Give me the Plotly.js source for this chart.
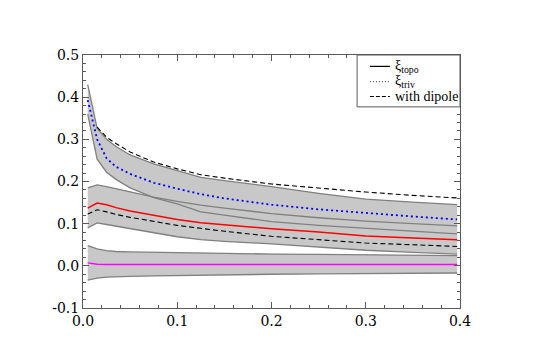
<!DOCTYPE html>
<html>
<head>
<meta charset="utf-8">
<script src="https://cdn.plot.ly/plotly-3.0.1.min.js"></script>
<style>body{margin:0;background:#fff}</style>
</head>
<body>
<div id="plot" style="width:545px;height:364px"></div>
<script>
// x grid shared by every curve
const xs = [0.005, 0.015, 0.025, 0.035, 0.05, 0.075, 0.1, 0.125, 0.15, 0.2, 0.25, 0.3, 0.35, 0.397];

// xi_triv (blue dotted) and its band
const triv     = [0.393, 0.300, 0.255, 0.235, 0.218, 0.197, 0.183, 0.170, 0.160, 0.145, 0.134, 0.125, 0.117, 0.110];
const trivHi   = [0.430, 0.326, 0.300, 0.283, 0.263, 0.242, 0.226, 0.210, 0.202, 0.188, 0.172, 0.158, 0.151, 0.145];
const trivLo   = [0.360, 0.253, 0.222, 0.205, 0.185, 0.162, 0.147, 0.128, 0.120, 0.105, 0.096, 0.089, 0.082, 0.076];
// xi_triv with dipole (upper dashed), starts at second point
const xsDip    = [0.015, 0.025, 0.035, 0.05, 0.075, 0.1, 0.125, 0.15, 0.2, 0.25, 0.3, 0.35, 0.397];
const trivDip  = [0.329, 0.305, 0.290, 0.270, 0.246, 0.230, 0.216, 0.208, 0.194, 0.184, 0.175, 0.167, 0.161];

// xi_topo (red) and its band
const topo     = [0.137, 0.149, 0.145, 0.138, 0.130, 0.120, 0.110, 0.102, 0.097, 0.088, 0.080, 0.071, 0.066, 0.062];
const topoHi   = [0.185, 0.192, 0.188, 0.183, 0.176, 0.163, 0.153, 0.144, 0.137, 0.124, 0.114, 0.106, 0.100, 0.095];
const topoLo   = [0.090, 0.102, 0.098, 0.094, 0.088, 0.078, 0.069, 0.062, 0.058, 0.052, 0.044, 0.037, 0.032, 0.028];
const topoDip  = [0.123, 0.133, 0.128, 0.122, 0.115, 0.105, 0.096, 0.089, 0.082, 0.070, 0.062, 0.054, 0.050, 0.046];

// difference (magenta) and its band
const diff     = [0.007, 0.004, 0.003, 0.003, 0.003, 0.003, 0.003, 0.003, 0.003, 0.003, 0.003, 0.003, 0.003, 0.003];
const diffHi   = [0.048, 0.040, 0.036, 0.034, 0.033, 0.032, 0.031, 0.030, 0.029, 0.028, 0.027, 0.026, 0.025, 0.024];
const diffLo   = [-0.034, -0.029, -0.027, -0.026, -0.025, -0.024, -0.023, -0.022, -0.021, -0.020, -0.019, -0.018, -0.018, -0.017];

const xTicks = [0, 0.1, 0.2, 0.3, 0.4];
const xTickText = ['0.0', '0.1', '0.2', '0.3', '0.4'];
const yTicks = [-0.1, 0, 0.1, 0.2, 0.3, 0.4, 0.5];
const yTickText = ['-0.1', '0.0', '0.1', '0.2', '0.3', '0.4', '0.5'];

// legend labels and their sample line styles
const legendNames = ['ξ<sub>topo</sub>', 'ξ<sub>triv</sub>', 'with dipole'];
const legendDash = ['solid', '1px,2px', '4px,2px'];

const SERIF = 'DejaVu Serif';
const LSERIF = 'Times New Roman, DejaVu Serif';
const FILL = 'rgb(200,200,200)';
const EDGE = 'rgb(128,128,128)';
const AX = 'rgb(90,90,90)';

function band(lo, hi) {
  return {
    x: xs.concat(xs.slice().reverse()),
    y: lo.concat(hi.slice().reverse()),
    fill: 'toself', fillcolor: FILL, mode: 'lines',
    line: { width: 0 }, hoverinfo: 'skip'
  };
}
function edge(y) {
  return { x: xs, y: y, mode: 'lines', line: { color: EDGE, width: 1.3 } };
}

const traces = [
  band(topoLo, topoHi),
  band(trivLo, trivHi),
  band(diffLo, diffHi),
  edge(topoLo), edge(topoHi),
  edge(trivLo), edge(trivHi),
  edge(diffLo), edge(diffHi),
  { x: xsDip, y: trivDip, mode: 'lines', line: { color: 'black', width: 1.1, dash: '5px,3px' } },
  { x: xs, y: topoDip, mode: 'lines', line: { color: 'black', width: 1.1, dash: '5px,3px' } },
  { x: xs, y: triv, mode: 'lines', line: { color: 'blue', width: 1.8, dash: '2px,3px' } },
  { x: xs, y: topo, mode: 'lines', line: { color: 'red', width: 1.5 } },
  { x: xs, y: diff, mode: 'lines', line: { color: 'magenta', width: 1.5 } }
];

// hand-placed legend box (paper coords) so the rows sit as tight as the original
const rowY = [0.955, 0.895, 0.836];
const shapes = [{
  type: 'rect', xref: 'paper', yref: 'paper', x0: 0.727, x1: 1, y0: 0.795, y1: 1,
  line: { color: AX, width: 1 }, fillcolor: 'white', layer: 'above'
}];
const annotations = [];
legendNames.forEach((name, i) => {
  shapes.push({
    type: 'line', xref: 'paper', yref: 'paper', x0: 0.761, x1: 0.814, y0: rowY[i], y1: rowY[i],
    line: { color: i === 1 ? AX : 'black', width: 1.2, dash: legendDash[i] }, layer: 'above'
  });
  annotations.push({
    xref: 'paper', yref: 'paper', x: 0.824, y: rowY[i], xanchor: 'left', yanchor: 'middle',
    text: name, showarrow: false, borderpad: 0,
    font: { family: LSERIF, size: 14, color: 'black' }
  });
});

const axisCommon = {
  showline: true, linecolor: AX, linewidth: 1, mirror: 'ticks',
  ticks: 'inside', ticklen: 6, tickcolor: AX, tickwidth: 1,
  showgrid: false, zeroline: false,
  tickfont: { family: SERIF, size: 14, color: 'black' }
};

const layout = {
  width: 545, height: 364,
  margin: { l: 83, r: 85, t: 55, b: 56 },
  paper_bgcolor: 'white', plot_bgcolor: 'white',
  showlegend: false,
  font: { family: SERIF, color: 'black' },
  xaxis: Object.assign({}, axisCommon, {
    range: [0, 0.4], tickvals: xTicks, ticktext: xTickText,
    minor: { ticks: 'inside', dtick: 0.02, ticklen: 3, tickcolor: AX }
  }),
  yaxis: Object.assign({}, axisCommon, {
    range: [-0.1, 0.5], tickvals: yTicks, ticktext: yTickText,
    minor: { ticks: 'inside', dtick: 0.02, ticklen: 3, tickcolor: AX }
  }),
  shapes: shapes,
  annotations: annotations
};

Plotly.newPlot('plot', traces, layout, { displayModeBar: false, staticPlot: true });
</script>
</body>
</html>
